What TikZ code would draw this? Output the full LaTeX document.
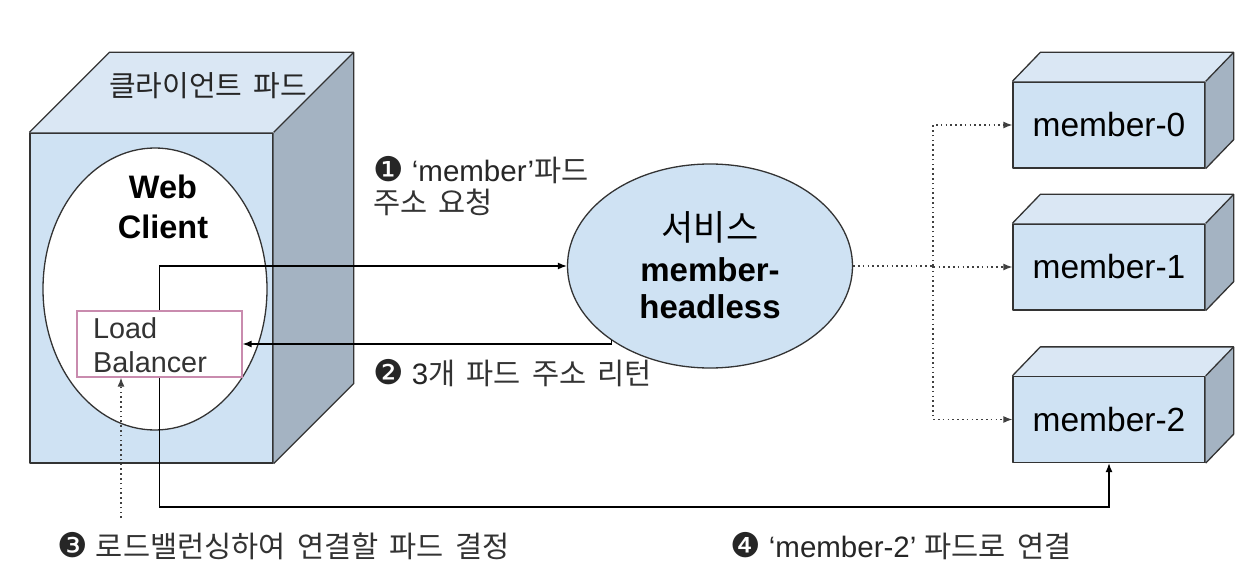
\documentclass[tikz,border=0pt]{standalone}
\usepackage{fontspec}
\setmainfont{Liberation Sans}
\newfontfamily\kr[WordSpace=1.7]{Noto Sans CJK KR}
\newfontfamily\dv{DejaVu Sans}
\usetikzlibrary{arrows.meta,calc,shapes.geometric}
\newcommand\myfs[2]{\fontsize{#1}{#2}\selectfont}
\definecolor{frontc}{HTML}{CFE2F3}
\definecolor{topc}{HTML}{DAE7F4}
\definecolor{sidec}{HTML}{A4B3C2}
\definecolor{pinkc}{HTML}{C98BAE}
\definecolor{edgec}{HTML}{333333}
\tikzset{
  x=1pt, y=-1pt,
  face/.style={draw=edgec, line width=1.3pt, line join=round},
  conn/.style={draw=black, line width=1.3pt, -{Latex[length=9pt,width=7pt]}},
  dotconn/.style={draw=black!75, line width=1.3pt, dash pattern=on 1.6pt off 3.2pt, -{Latex[length=9pt,width=7pt]}},
  lbl/.style={inner sep=0pt, anchor=west, align=left, text=black!85, font=\myfs{29.5}{32}},
  member/.style={face, fill=frontc, minimum width=192pt, minimum height=86pt, inner sep=0pt, font=\myfs{33.5}{36}},
}
\newcommand\cube[3]{% node, dx, dy
  \fill[topc] (#1.north west) -- ++(#2,#3) -- ($(#1.north east)+(#2,#3)$) -- (#1.north east) -- cycle;
  \fill[sidec] (#1.north east) -- ++(#2,#3) -- ($(#1.south east)+(#2,#3)$) -- (#1.south east) -- cycle;
  \draw[face] (#1.north west) -- ++(#2,#3) -- ($(#1.north east)+(#2,#3)$) -- ($(#1.south east)+(#2,#3)$) -- (#1.south east);
  \draw[face] (#1.north east) -- ++(#2,#3);
}
\newcommand\cn[1]{{\dv\myfs{34}{32}#1}}
\newcommand\kt[1]{{\kr\myfs{29.5}{32}\color{black!80}#1}}
\begin{document}
\begin{tikzpicture}
\useasboundingbox[fill=white] (0,0) rectangle (1244,572);

% client pod
\node[face, fill=frontc, minimum width=243pt, minimum height=330pt, inner sep=0pt] (pod) at (151.5,298) {};
\cube{pod}{80}{-80}
\node[inner sep=0pt, font=\kr\myfs{29}{30}, text=black!85] (podlbl) at (208,86) {클라이언트 파드};

% web client ellipse
\node[draw=edgec, line width=1.3pt, fill=white, ellipse, minimum width=224pt, minimum height=282pt, inner sep=0pt] (web) at (155,289) {};
\node[inner sep=0pt, align=center, font=\bfseries\myfs{32.5}{40}] (webtxt) at (163,207) {Web\\Client};

% load balancer
\node[draw=pinkc, line width=1.2pt, fill=white, minimum width=165pt, minimum height=66pt, inner sep=0pt] (lb) at (159.5,344) {};
\node[lbl, font=\myfs{28.8}{34}, text=black!80] (lbtxt) at (93,345) {Load\\Balancer};

% service
\node[draw=edgec, line width=1.3pt, fill=frontc, ellipse, minimum width=285pt, minimum height=204pt, inner sep=0pt] (svc) at (710,266) {};
\node[inner sep=0pt, align=center, font=\bfseries\myfs{33}{37}] (svctxt) at (710,265) {{\mdseries\kr\myfs{35}{38}서비스}\\[4pt]member-\\headless};

% members
\node[member] (m0) at (1109,125) {member-0};
\node[member] (m1) at (1109,267) {member-1};
\node[member] (m2) at (1109,419.5) {member-2};
\cube{m0}{28}{-29}
\cube{m1}{28}{-29}
\cube{m2}{28}{-29}

% connectors
\draw[conn] (lb.north) |- (svc.west);
\draw[conn] (svc.217) |- (lb.east);
\coordinate (bot) at (0,507);
\draw[conn] (lb.south) -- (lb.south |- bot) -| (m2.south);
\coordinate (d3) at (121,518);
\draw[dotconn] (d3) -- (d3 |- lb.south);
\coordinate (j) at (933,266);
\draw[dotconn] (svc.east) -- (j) |- (m1.west);
\draw[dotconn] (j) |- (m0.west);
\draw[dotconn] (j) |- (m2.west);

% labels
\node[lbl] (l1) at (373,186) {\cn{❶} ‘member’\kt{파드}\\\kt{주소 요청}};
\node[lbl] (l2) at (373,373) {\cn{❷} 3\kt{개 파드 주소 리턴}};
\node[lbl] (l3) at (57,546) {\cn{❸} \kt{로드밸런싱하여 연결할 파드 결정}};
\node[lbl] (l4) at (730,546) {\cn{❹} ‘member-2’ \kt{파드로 연결}};
\end{tikzpicture}
\end{document}
